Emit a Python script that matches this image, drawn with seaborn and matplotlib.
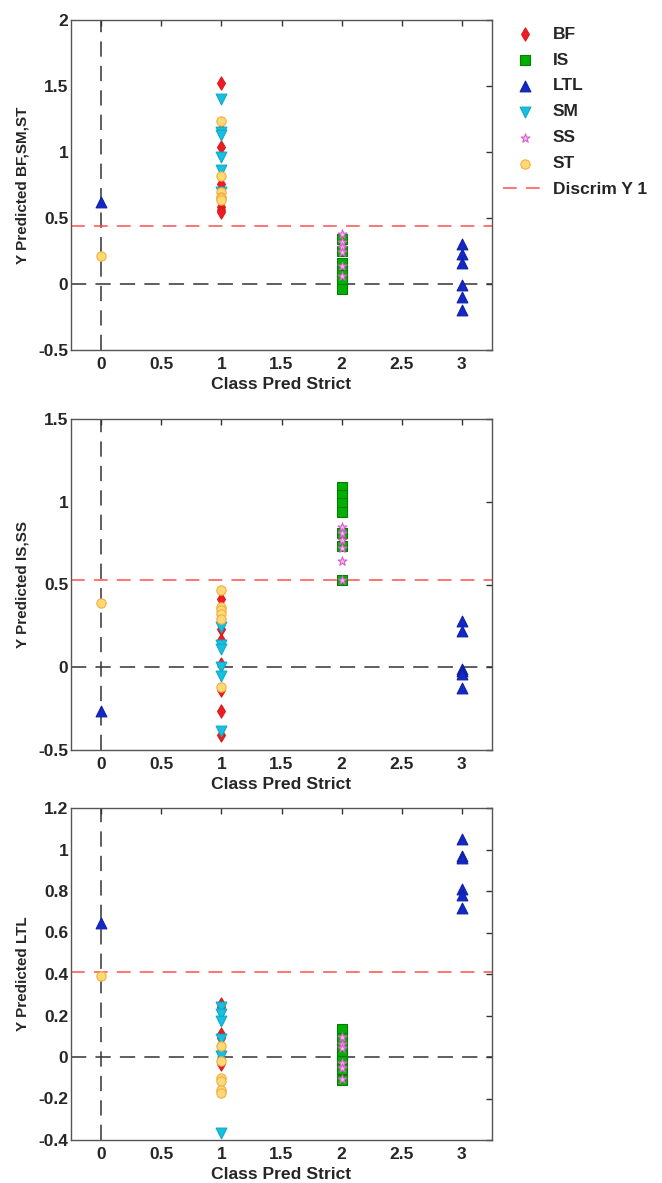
import matplotlib
matplotlib.use("Agg")
import matplotlib.pyplot as plt
import seaborn as sns
import pandas as pd

# ---------------- data ----------------
groups = ["BF", "IS", "LTL", "SM", "SS", "ST"]

# Class Pred Strict (x) for each sample of each group (shared by all panels)
x_BF = [1, 1, 1, 1, 1, 1, 1, 1]
x_IS = [2, 2, 2, 2, 2, 2, 2]
x_LTL = [0, 3, 3, 3, 3, 3, 3]
x_SM = [1, 1, 1, 1, 1, 1]
x_SS = [2, 2, 2, 2, 2, 2]
x_ST = [0, 1, 1, 1, 1, 1, 1]

# Panel 1: Y Predicted BF,SM,ST
p1_BF = [1.52, 1.17, 1.035, 0.755, 0.63, 0.585, 0.56, 0.545]
p1_IS = [0.34, 0.25, 0.16, 0.10, 0.07, 0.033, -0.036]
p1_LTL = [0.62, 0.30, 0.226, 0.16, -0.005, -0.10, -0.20]
p1_SM = [1.40, 1.15, 1.13, 0.965, 0.86, 0.70]
p1_SS = [0.38, 0.315, 0.28, 0.24, 0.136, 0.06]
p1_ST = [0.215, 1.235, 0.82, 0.70, 0.66, 0.65, 0.635]

# Panel 2: Y Predicted IS,SS
p2_BF = [0.415, 0.32, 0.232, 0.162, 0.02, -0.14, -0.263, -0.41]
p2_IS = [1.09, 1.04, 0.99, 0.94, 0.81, 0.733, 0.53]
p2_LTL = [-0.263, 0.277, 0.222, -0.01, -0.025, -0.04, -0.125]
p2_SM = [0.243, 0.137, 0.11, 0.0, -0.05, -0.384]
p2_SS = [0.85, 0.81, 0.77, 0.72, 0.64, 0.53]
p2_ST = [0.39, 0.465, 0.364, 0.344, 0.324, 0.293, -0.117]

# Panel 3: Y Predicted LTL
p3_BF = [0.257, 0.24, 0.11, 0.093, 0.06, 0.03, -0.01, -0.035]
p3_IS = [0.133, 0.093, 0.045, 0.005, -0.02, -0.06, -0.11]
p3_LTL = [0.648, 1.05, 0.97, 0.96, 0.81, 0.78, 0.72]
p3_SM = [0.24, 0.205, 0.175, 0.085, 0.005, -0.365]
p3_SS = [0.096, 0.061, 0.045, -0.027, -0.055, -0.108]
p3_ST = [0.39, 0.053, -0.02, -0.10, -0.115, -0.16, -0.172]

discrim = [0.44, 0.525, 0.41]
ylabels = ["Y Predicted BF,SM,ST", "Y Predicted IS,SS", "Y Predicted LTL"]
ylims = [(-0.5, 2.0), (-0.5, 1.5), (-0.4, 1.2)]
yticks = [[-0.5, 0, 0.5, 1, 1.5, 2],
          [-0.5, 0, 0.5, 1, 1.5],
          [-0.4, -0.2, 0, 0.2, 0.4, 0.6, 0.8, 1, 1.2]]
ytick_labels = [["-0.5", "0", "0.5", "1", "1.5", "2"],
                ["-0.5", "0", "0.5", "1", "1.5"],
                ["-0.4", "-0.2", "0", "0.2", "0.4", "0.6", "0.8", "1", "1.2"]]
xticks = [0, 0.5, 1, 1.5, 2, 2.5, 3]
xtick_labels = ["0", "0.5", "1", "1.5", "2", "2.5", "3"]
xlabel = "Class Pred Strict"

xs = {"BF": x_BF, "IS": x_IS, "LTL": x_LTL, "SM": x_SM, "SS": x_SS, "ST": x_ST}
panels = [
    {"BF": p1_BF, "IS": p1_IS, "LTL": p1_LTL, "SM": p1_SM, "SS": p1_SS, "ST": p1_ST},
    {"BF": p2_BF, "IS": p2_IS, "LTL": p2_LTL, "SM": p2_SM, "SS": p2_SS, "ST": p2_ST},
    {"BF": p3_BF, "IS": p3_IS, "LTL": p3_LTL, "SM": p3_SM, "SS": p3_SS, "ST": p3_ST},
]

# ---------------- style ----------------
sns.set_style("white")
plt.rcParams["font.family"] = ["Liberation Sans", "DejaVu Sans"]
plt.rcParams["font.weight"] = "bold"

styles = {
    "BF": dict(marker="d", color="#ee1c24", edgecolor="#e01818", s=45),
    "IS": dict(marker="s", color="#00b000", edgecolor="#0a7a0a", s=55),
    "LTL": dict(marker="^", color="#1428c8", edgecolor="#1020a0", s=60),
    "SM": dict(marker="v", color="#18c0e0", edgecolor="#10a8c8", s=60),
    "SS": dict(marker="*", color="#f4c0ee", edgecolor="#d860c8", s=45),
    "ST": dict(marker="o", color="#ffd878", edgecolor="#f0b040", s=45),
}

W, H = 662, 1183
fig = plt.figure(figsize=(W / 100, H / 100), dpi=100)

axes_px = [(71, 20, 492, 350), (71, 419, 492, 750), (71, 808, 492, 1140)]
TICK_FS = 12.5
XLAB_FS = 12.6
YLAB_FS = 11

for i, (l, t, r, b) in enumerate(axes_px):
    ax = fig.add_axes([l / W, 1 - b / H, (r - l) / W, (b - t) / H])
    ax.axhline(0, color="#333333", lw=1.1, dashes=(10, 6), zorder=1)
    ax.axvline(0, color="#333333", lw=1.1, dashes=(10, 6), zorder=1)
    ax.axhline(discrim[i], color="#ff5050", lw=1.1, dashes=(9, 6), zorder=1,
               label="Discrim Y 1")
    for g in groups:
        df = pd.DataFrame({"x": xs[g], "y": panels[i][g]})
        st = styles[g]
        sns.scatterplot(data=df, x="x", y="y", ax=ax, marker=st["marker"],
                        color=st["color"], edgecolor=st["edgecolor"],
                        linewidth=0.8, s=st["s"], label=g, zorder=3,
                        legend=False)
    ax.set_xlim(-0.25, 3.25)
    ax.set_ylim(*ylims[i])
    ax.set_xticks(xticks)
    ax.set_xticklabels(xtick_labels, fontsize=TICK_FS, fontweight="bold")
    ax.set_yticks(yticks[i])
    ax.set_yticklabels(ytick_labels[i], fontsize=TICK_FS, fontweight="bold")
    ax.set_xlabel(xlabel, fontsize=XLAB_FS, fontweight="bold", labelpad=3.5)
    ax.set_ylabel(ylabels[i], fontsize=YLAB_FS, fontweight="bold", labelpad=6)
    ax.tick_params(direction="in", length=4, width=1, color="#333333",
                   top=True, right=True, pad=2)
    ax.tick_params(axis="x", pad=5)
    for sp in ax.spines.values():
        sp.set_color("#555555")
        sp.set_linewidth(1.0)
    if i == 0:
        hd = dict(zip(*ax.get_legend_handles_labels()[::-1]))
        order = groups + ["Discrim Y 1"]
        fig.legend([hd[k] for k in order], order, loc="upper left",
                   bbox_to_anchor=(500 / W, 1 - 23 / H), frameon=False,
                   prop={"size": 12.5, "weight": "bold"}, handlelength=2.5,
                   labelspacing=0.62, handletextpad=0.35, borderaxespad=0,
                   borderpad=0.2)

fig.savefig("out.png", dpi=100)
